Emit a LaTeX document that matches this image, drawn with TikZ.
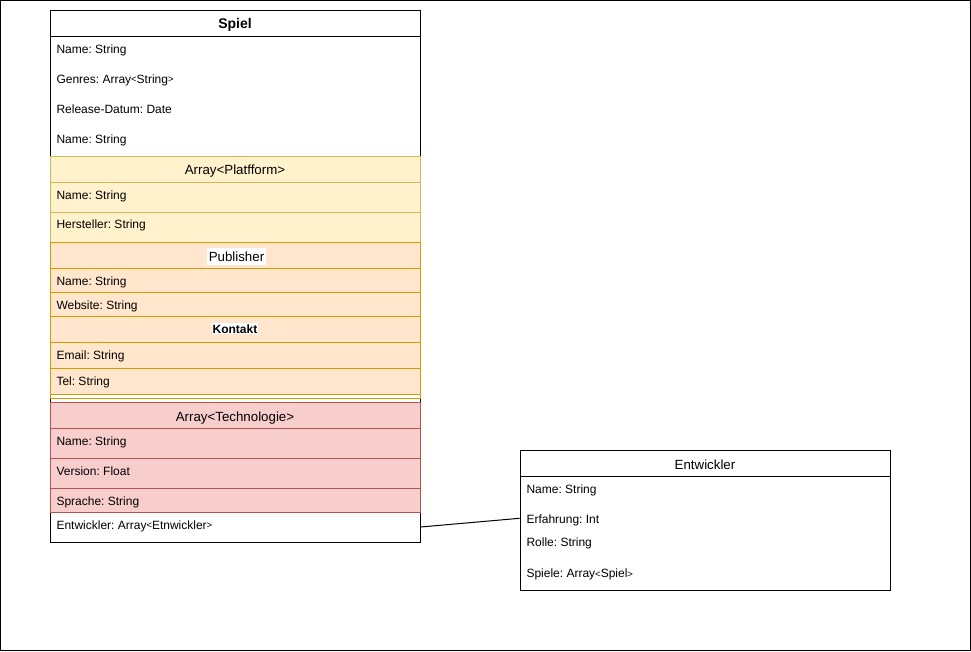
\documentclass[tikz,border=0pt]{standalone}
\usepackage{fontspec}
\setmainfont{Liberation Sans}
\frenchspacing
\definecolor{platfFill}{HTML}{FFF2CC}
\definecolor{platfLine}{HTML}{D6B656}
\definecolor{pubFill}{HTML}{FFE6CC}
\definecolor{pubLine}{HTML}{D79B00}
\definecolor{techFill}{HTML}{F8CECC}
\definecolor{techLine}{HTML}{B85450}
% small angle brackets used inside attribute types
\newcommand\myLt{{\fontsize{9.5}{10}\selectfont\raisebox{0.3pt}{<}}}
\newcommand\myGt{{\fontsize{9.5}{10}\selectfont\raisebox{0.3pt}{>}}}
\begin{document}
\begin{tikzpicture}[x=1pt,y=-1pt,line width=1pt,
  attr/.style={font=\fontsize{12}{14}\selectfont,anchor=base west,inner sep=0pt},
  hdr/.style={font=\fontsize{13.3}{15}\selectfont,anchor=base,inner sep=0pt},
  bhdr/.style={font=\fontsize{14}{16}\selectfont\bfseries,anchor=base,inner sep=0pt},
  platf/.style={fill=platfFill,draw=platfLine},
  pub/.style={fill=pubFill,draw=pubLine},
  tech/.style={fill=techFill,draw=techLine},
  rownode/.style={minimum width=370pt,inner sep=0pt,draw=none}]
\useasboundingbox (0,0) rectangle (971,651);
% outer frame
\draw (0.5,0.5) rectangle (970.5,650.5);

% ---------- class Spiel ----------
\draw[fill=white] (50,10) rectangle (420,542);
\draw (50,36) -- (420,36);
\node[bhdr] (spielT) at (235,28.3) {Spiel};
\node[attr] (sName) at (56,53.2) {Name: String};
\node[attr] (sGenres) at (56,83.2) {Genres: Array\myLt String\myGt};
\node[attr] (sRelease) at (56,113.2) {Release-Datum: Date};
\node[attr] (sName2) at (56,143.2) {Name: String};

% nested Array<Platfform>
\path[platf] (50,156) rectangle (420,182);
\path[platf] (50,182) rectangle (420,212);
\path[platf] (50,212) rectangle (420,242);
\node[hdr] (platfT) at (235,174.3) {Array<Platfform>};
\node[attr] (pName) at (56,199) {Name: String};
\node[attr] (pHerst) at (56,228.7) {Hersteller: String};

% nested Publisher with Kontakt
\path[pub] (50,242) rectangle (420,268);
\path[pub] (50,268) rectangle (420,292);
\path[pub] (50,292) rectangle (420,316);
\path[pub] (50,316) rectangle (420,342);
\path[pub] (50,342) rectangle (420,368);
\path[pub] (50,368) rectangle (420,394);
\draw[pubLine,fill=white] (50,394) rectangle (420,398);
\node[hdr,fill=white,inner xsep=1.5pt,inner ysep=1.2pt,text height=12pt,text depth=2.8pt] (pubT) at (236.5,261) {Publisher};
\node[attr] (pubName) at (56,285.7) {Name: String};
\node[attr] (pubWeb) at (56,309.3) {Website: String};
\node[font=\fontsize{12}{14}\selectfont\bfseries,anchor=base,fill=white,inner sep=0.4pt,text height=9.6pt,text depth=0.4pt] (kontaktT) at (235,333.3) {Kontakt};
\node[attr] (kEmail) at (56,359.3) {Email: String};
\node[attr] (kTel) at (56,385) {Tel: String};

% nested Array<Technologie>
\path[tech] (50,402) rectangle (420,428);
\path[tech] (50,428) rectangle (420,458);
\path[tech] (50,458) rectangle (420,488);
\path[tech] (50,488) rectangle (420,512);
\node[hdr] (techT) at (235,421) {Array<Technologie>};
\node[attr] (tName) at (56,445) {Name: String};
\node[attr] (tVersion) at (56,475) {Version: Float};
\node[attr] (tSprache) at (56,505) {Sprache: String};

% last attribute row of Spiel
\node[rownode,minimum height=30pt] (spielEntw) at (235,527) {};
\node[attr] (sEntw) at (56,529) {Entwickler: Array\myLt Etnwickler\myGt};

% ---------- class Entwickler ----------
\draw[fill=white] (520,450) rectangle (890,590);
\draw (520,476) -- (890,476);
\node[hdr] (entwT) at (705,469.3) {Entwickler};
\node[attr] (eName) at (526,493.3) {Name: String};
\node[rownode,minimum height=24pt] (entwErf) at (705,518.3) {};
\node[attr] (eErf) at (526,523.3) {Erfahrung: Int};
\node[attr] (eRolle) at (526,546.7) {Rolle: String};
\node[attr] (eSpiele) at (526,577.3) {Spiele: Array\myLt Spiel\myGt};

% association
\draw (spielEntw.east) -- (entwErf.west);
\end{tikzpicture}
\end{document}
